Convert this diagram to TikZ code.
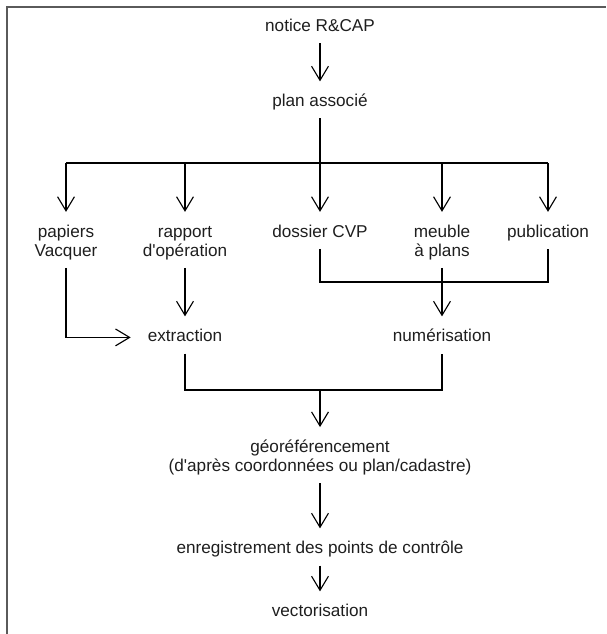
\documentclass[tikz,border=0pt]{standalone}
\usepackage{fontspec}
\setmainfont{Liberation Sans}
\usetikzlibrary{arrows.meta}
\definecolor{framegray}{RGB}{90,90,90}
\definecolor{textgray}{RGB}{30,30,30}
\newcommand{\toprow}{\vphantom{d}}

\begin{document}
\begin{tikzpicture}[
    txt/.style={font=\fontsize{12.2}{13.5}\selectfont, text=textgray,
      inner xsep=2pt, inner ysep=5.5pt, text height=9pt, text depth=2.5pt},
    txttwo/.style={txt, text height={}, text depth={}, align=center},
    flow/.style={line width=0.8pt},
    flowarrow/.style={flow, -{Straight Barb[length=10pt,width=12pt]}, shorten >=3.5pt}
  ]
\def\ColA{1.65}
\def\ColB{4.625}
\def\ColC{8}
\def\ColD{11.05}
\def\ColE{13.7}
\useasboundingbox (0,0) rectangle (15.15,-15.85);

% cadre
\draw[line width=1.2pt, framegray] (0.175,-15.85) -- (0.175,-0.175) -- (15.15,-0.175);

\node[txt] (notice) at (\ColC,-0.685) {notice R\&CAP};
\node[txt] (plan) at (\ColC,-2.56) {plan associ\'e};

\node[txttwo, anchor=north] (papiers) at (\ColA,-5.42) {\toprow papiers\\Vacquer};
\node[txttwo, anchor=north] (rapport) at (\ColB,-5.42) {\toprow rapport\\d\textquotesingle op\'eration};
\node[txt, anchor=north] (dossier) at (\ColC,-5.42) {dossier CVP};
\node[txttwo, anchor=north] (meuble) at (\ColD,-5.42) {\toprow meuble\\\`a plans};
\node[txt, anchor=north] (publication) at (\ColE,-5.42) {publication};

\node[txt] (extraction) at (\ColB,-8.435) {extraction};
\node[txt] (numerisation) at (\ColD,-8.435) {num\'erisation};

\node[txttwo, anchor=north] (georef) at (\ColC,-10.80)
  {\toprow g\'eor\'ef\'erencement\\(d\textquotesingle apr\`es coordonn\'ees ou plan/cadastre)};
\node[txt] (enregistrement) at (\ColC,-13.735) {enregistrement des points de contr\^ole};
\node[txt] (vectorisation) at (\ColC,-15.31) {vectorisation};

\coordinate (split) at (\ColC,-4.075);
\coordinate (scanjoin) at (\ColD,-7.05);
\coordinate (georefjoin) at (\ColC,-9.75);

\draw[flowarrow] (notice) -- (plan);
\draw[flow] (plan) -- (split);
\draw[flow] (papiers |- split) -- (publication |- split);
\foreach \src in {papiers,rapport,dossier,meuble,publication}
  \draw[flowarrow] (\src |- split) -- (\src);

\draw[flowarrow] (rapport) -- (extraction);
\draw[flowarrow, shorten >=10pt] (papiers) |- (extraction);
\draw[flow] (dossier) |- (publication |- scanjoin) -- (publication);
\draw[flowarrow] (meuble) -- (numerisation);

\draw[flow] (extraction) |- (numerisation |- georefjoin) -- (numerisation);
\draw[flowarrow] (georefjoin) -- (georef);
\draw[flowarrow] (georef) -- (enregistrement);
\draw[flowarrow] (enregistrement) -- (vectorisation);

\end{tikzpicture}
\end{document}
